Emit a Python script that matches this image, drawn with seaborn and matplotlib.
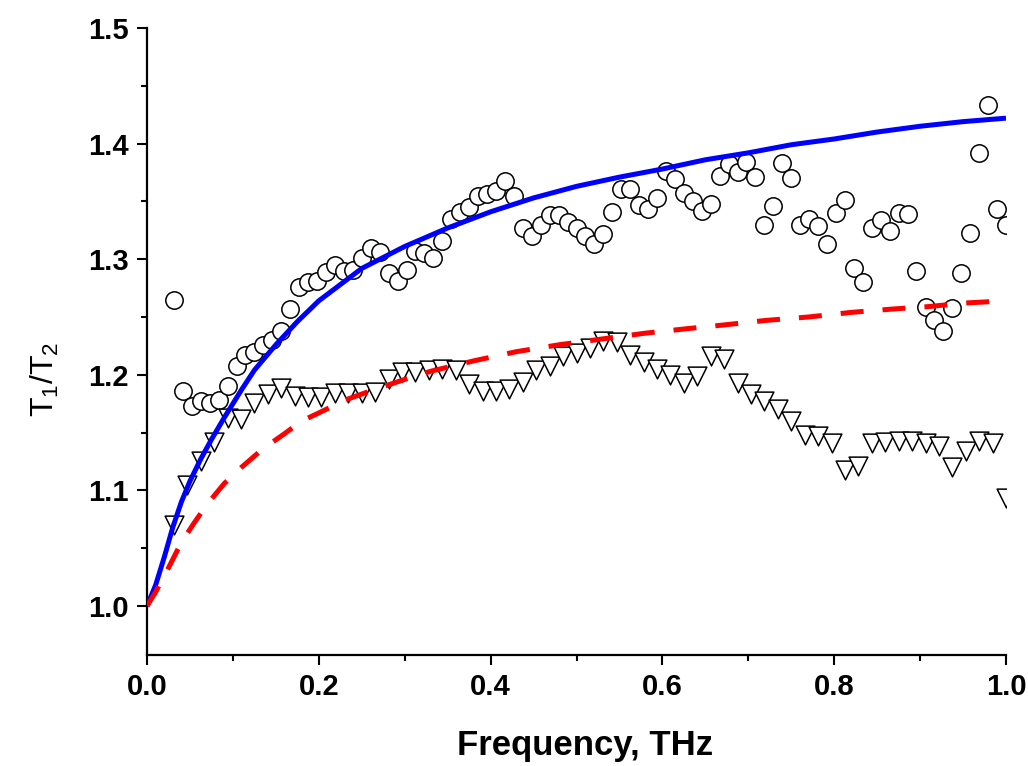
import matplotlib
matplotlib.use("Agg")
import matplotlib.pyplot as plt
import seaborn as sns
import pandas as pd
from matplotlib.ticker import MultipleLocator, FormatStrFormatter

# ---------------- data ----------------
circ_freq = [0.0313, 0.0417, 0.0521, 0.0625, 0.0729, 0.0833, 0.0938, 0.1042, 0.1146, 0.125,
             0.1354, 0.1458, 0.1563, 0.1667, 0.1771, 0.1875, 0.1979, 0.2083, 0.2188, 0.2292,
             0.2396, 0.25, 0.2604, 0.2708, 0.2813, 0.2917, 0.3021, 0.3125, 0.3229, 0.3333,
             0.3438, 0.3542, 0.3646, 0.375, 0.3854, 0.3958, 0.4063, 0.4167, 0.4271, 0.4375,
             0.4479, 0.4583, 0.4688, 0.4792, 0.4896, 0.5, 0.5104, 0.5208, 0.5313, 0.5417,
             0.5521, 0.5625, 0.5729, 0.5833, 0.5938, 0.6042, 0.6146, 0.625, 0.6354, 0.6458,
             0.6563, 0.6667, 0.6771, 0.6875, 0.6979, 0.7083, 0.7188, 0.7292, 0.7396, 0.75,
             0.7604, 0.7708, 0.7813, 0.7917, 0.8021, 0.8125, 0.8229, 0.8333, 0.8438, 0.8542,
             0.8646, 0.875, 0.8854, 0.8958, 0.9063, 0.9167, 0.9271, 0.9375, 0.9479, 0.9583,
             0.9688, 0.9792, 0.9896, 1.0]
circ_ratio = [1.265, 1.186, 1.173, 1.177, 1.176, 1.178, 1.190, 1.208, 1.217, 1.220,
              1.226, 1.230, 1.238, 1.257, 1.276, 1.280, 1.281, 1.289, 1.295, 1.290,
              1.291, 1.301, 1.310, 1.306, 1.288, 1.281, 1.291, 1.307, 1.305, 1.301,
              1.316, 1.335, 1.341, 1.345, 1.355, 1.356, 1.359, 1.368, 1.355, 1.327,
              1.320, 1.330, 1.338, 1.338, 1.332, 1.327, 1.320, 1.313, 1.322, 1.341,
              1.361, 1.361, 1.347, 1.343, 1.353, 1.376, 1.369, 1.357, 1.350, 1.342,
              1.348, 1.372, 1.382, 1.375, 1.384, 1.371, 1.330, 1.346, 1.383, 1.370,
              1.330, 1.335, 1.329, 1.313, 1.340, 1.351, 1.292, 1.280, 1.327, 1.334,
              1.324, 1.340, 1.339, 1.290, 1.259, 1.247, 1.238, 1.258, 1.288, 1.323,
              1.392, 1.433, 1.343, 1.330]

tri_freq = [0.0313, 0.0469, 0.0625, 0.0781, 0.0938, 0.1094, 0.125, 0.1406, 0.1563, 0.1719,
            0.1875, 0.2031, 0.2188, 0.2344, 0.25, 0.2656, 0.2813, 0.2969, 0.3125, 0.3281,
            0.3438, 0.3594, 0.375, 0.3906, 0.4063, 0.4219, 0.4375, 0.4531, 0.4688, 0.4844,
            0.5, 0.5156, 0.5313, 0.5469, 0.5625, 0.5781, 0.5938, 0.6094, 0.625, 0.6406,
            0.6563, 0.6719, 0.6875, 0.7031, 0.7188, 0.7344, 0.75, 0.7656, 0.7813, 0.7969,
            0.8125, 0.8281, 0.8438, 0.8594, 0.875, 0.8906, 0.9063, 0.9219, 0.9375, 0.9531,
            0.9688, 0.9844, 1.0]
tri_ratio = [1.070, 1.105, 1.125, 1.142, 1.163, 1.162, 1.176, 1.183, 1.189, 1.182,
             1.181, 1.181, 1.184, 1.184, 1.184, 1.185, 1.196, 1.202, 1.202, 1.204,
             1.205, 1.204, 1.192, 1.186, 1.186, 1.188, 1.194, 1.204, 1.208, 1.216,
             1.219, 1.223, 1.229, 1.228, 1.217, 1.211, 1.205, 1.200, 1.193, 1.199,
             1.216, 1.214, 1.193, 1.183, 1.177, 1.170, 1.160, 1.148, 1.147, 1.141,
             1.118, 1.121, 1.141, 1.142, 1.143, 1.143, 1.141, 1.138, 1.120, 1.134,
             1.143, 1.141, 1.093]

fit_solid_freq = [0.0, 0.01, 0.02, 0.03, 0.04, 0.05, 0.0625, 0.075, 0.09, 0.1, 0.11, 0.125,
                  0.15, 0.175, 0.2, 0.25, 0.3, 0.35, 0.4, 0.45, 0.5, 0.55, 0.6, 0.65, 0.7,
                  0.75, 0.8, 0.85, 0.9, 0.95, 1.0]
fit_solid_ratio = [1.000, 1.018, 1.042, 1.068, 1.090, 1.108, 1.127, 1.144, 1.163, 1.175, 1.187,
                   1.204, 1.226, 1.246, 1.264, 1.292, 1.311, 1.327, 1.341, 1.353, 1.363, 1.371,
                   1.378, 1.386, 1.392, 1.399, 1.404, 1.410, 1.415, 1.419, 1.422]

fit_dash_freq = [0.0, 0.01, 0.025, 0.04, 0.055, 0.07, 0.09, 0.11, 0.135, 0.16, 0.18, 0.2,
                 0.23, 0.26, 0.3, 0.33, 0.38, 0.43, 0.48, 0.53, 0.58, 0.63, 0.67, 0.72,
                 0.77, 0.82, 0.87, 0.91, 0.95, 1.0]
fit_dash_ratio = [1.000, 1.012, 1.033, 1.055, 1.072, 1.088, 1.106, 1.120, 1.136, 1.149, 1.160,
                  1.167, 1.178, 1.186, 1.196, 1.203, 1.212, 1.220, 1.226, 1.231, 1.236, 1.240,
                  1.243, 1.247, 1.250, 1.254, 1.257, 1.259, 1.262, 1.264]

x_ticks = [0.0, 0.2, 0.4, 0.6, 0.8, 1.0]
y_ticks = [1.0, 1.1, 1.2, 1.3, 1.4, 1.5]

# ---------------- style ----------------
sns.set_style("ticks")
plt.rcParams["font.family"] = ["Liberation Sans", "DejaVu Sans"]
plt.rcParams["mathtext.fontset"] = "custom"
plt.rcParams["mathtext.rm"] = "Liberation Sans"
plt.rcParams["mathtext.it"] = "Liberation Sans"
plt.rcParams["text.color"] = "black"
plt.rcParams["axes.labelcolor"] = "black"
plt.rcParams["xtick.color"] = "black"
plt.rcParams["ytick.color"] = "black"

fig = plt.figure(figsize=(10.28, 7.66), dpi=100)
ax = fig.add_axes([147 / 1028, 1 - 655 / 766, (1006 - 147) / 1028, (655 - 28) / 766])

circ_df = pd.DataFrame({"freq": circ_freq, "ratio": circ_ratio})
tri_df = pd.DataFrame({"freq": tri_freq, "ratio": tri_ratio})
solid_df = pd.DataFrame({"freq": fit_solid_freq, "ratio": fit_solid_ratio})
dash_df = pd.DataFrame({"freq": fit_dash_freq, "ratio": fit_dash_ratio})

sns.scatterplot(data=circ_df, x="freq", y="ratio", ax=ax, marker="o", s=12.5 ** 2,
                facecolor="white", edgecolor="black", linewidth=1.1, zorder=3, clip_on=True)
sns.scatterplot(data=tri_df, x="freq", y="ratio", ax=ax, marker="v", s=13.5 ** 2,
                facecolor="white", edgecolor="black", linewidth=1.1, zorder=3, clip_on=True)
sns.lineplot(data=solid_df, x="freq", y="ratio", ax=ax, color="#0000ff", linewidth=3.6,
             zorder=4, solid_capstyle="butt")
sns.lineplot(data=dash_df, x="freq", y="ratio", ax=ax, color="#ff0000", linewidth=3.6,
             linestyle=(0, (4.6, 3.8)), zorder=4, dash_capstyle="butt")

ax.set_xlim(0.0, 1.0)
ax.set_ylim(0.9576, 1.5)
ax.set_xticks(x_ticks)
ax.set_yticks(y_ticks)
ax.xaxis.set_minor_locator(MultipleLocator(0.1))
ax.yaxis.set_minor_locator(MultipleLocator(0.05))
ax.xaxis.set_major_formatter(FormatStrFormatter("%.1f"))
ax.yaxis.set_major_formatter(FormatStrFormatter("%.1f"))

sns.despine(ax=ax)
for side in ["left", "bottom"]:
    ax.spines[side].set_linewidth(1.6)
    ax.spines[side].set_color("black")

ax.tick_params(axis="both", which="major", direction="out", length=7, width=1.5,
               labelsize=21, colors="black", pad=6)
ax.tick_params(axis="both", which="minor", direction="out", length=4.5, width=1.5, colors="black")
for lab in ax.get_xticklabels() + ax.get_yticklabels():
    lab.set_fontweight("bold")

ax.set_xlabel("Frequency, THz", fontsize=25, fontweight="bold", color="black")
ax.set_ylabel(r"T$_1$/T$_2$", fontsize=23, color="black")
ax.xaxis.set_label_coords(0.51, -0.118)
ax.yaxis.set_label_coords(-0.10, 0.44)

fig.savefig("out.png", dpi=100)
